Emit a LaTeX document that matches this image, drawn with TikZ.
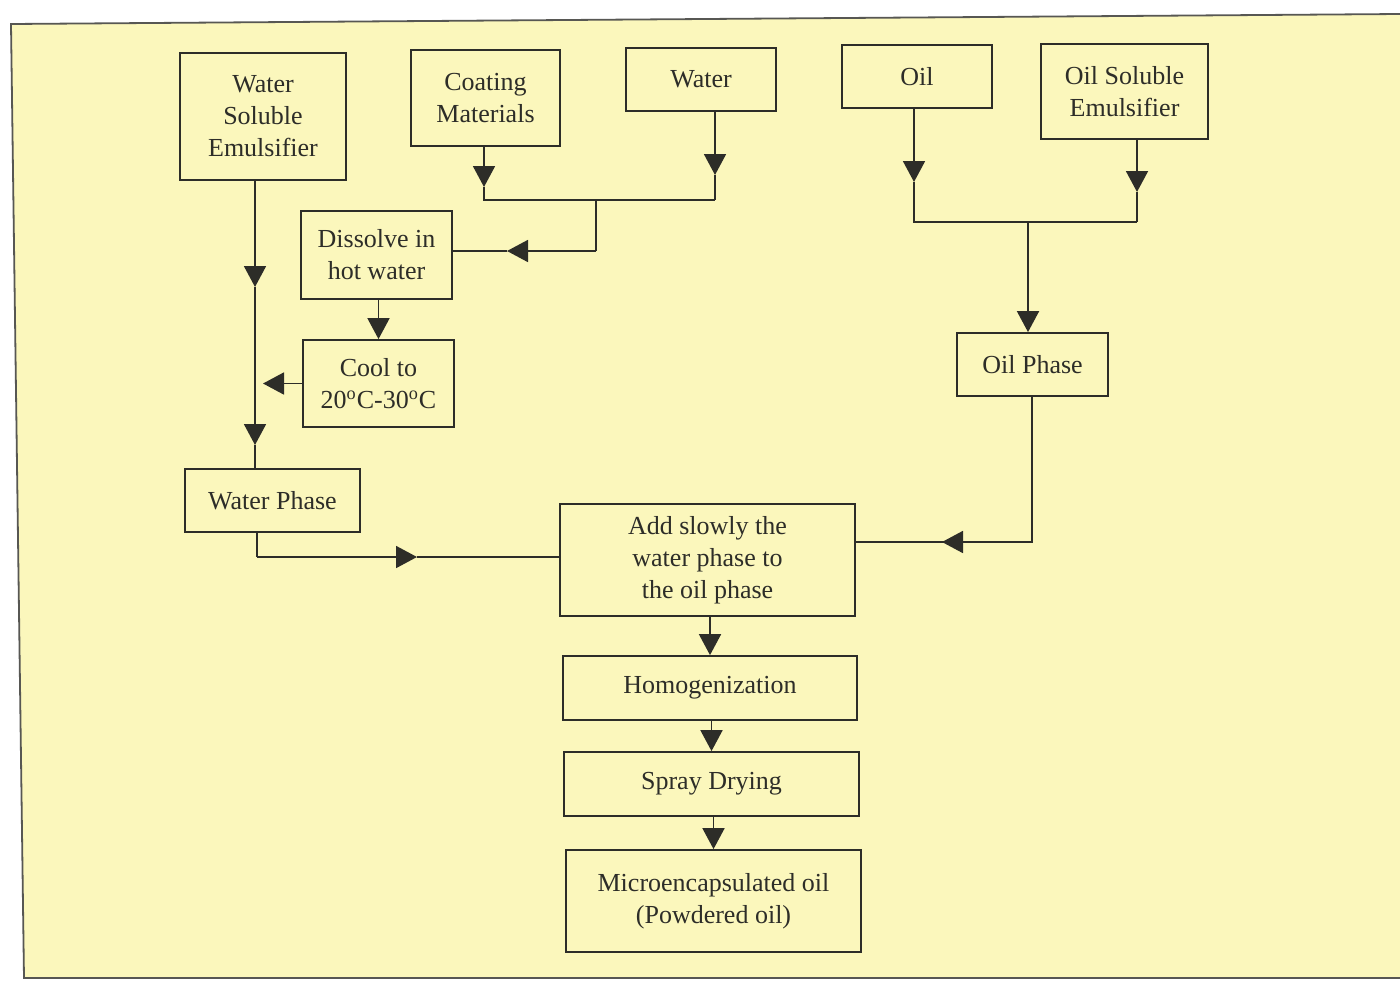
\documentclass[tikz,border=0pt]{standalone}
\usepackage{fontspec}
\setmainfont{Liberation Serif}
\usetikzlibrary{arrows.meta}
\definecolor{bg}{RGB}{251,247,188}
\definecolor{ink}{RGB}{45,45,40}
\begin{document}
\begin{tikzpicture}[x=0.5pt,y=-0.5pt,
  box/.style={draw=ink, line width=0.9pt, align=center, inner sep=0pt, text=ink,
    font=\fontsize{13}{16}\selectfont},
  ln/.style={draw=ink, line width=0.9pt},
  tip/.style={ln, -{Triangle[width=11pt,length=10.5pt]}},
]
\useasboundingbox (0,0) rectangle (1400,980);
% page and frame
\fill[white] (0,0) rectangle (1400,980);
\fill[bg] (11,24) -- (1400,14) -- (1400,978) -- (24,978) -- cycle;
\draw[ink!80, line width=0.9pt] (1400,14) -- (11,24) -- (24,978) -- (1400,978);

% boxes
\node[box, minimum width=83pt, minimum height=63.5pt] (wse) at (263,116.5) {Water\\Soluble\\Emulsifier};
\node[box, minimum width=74.5pt, minimum height=48pt] (coat) at (485.5,98) {Coating\\Materials};
\node[box, minimum width=75pt, minimum height=31.5pt] (water) at (701,79.5) {Water};
\node[box, minimum width=75pt, minimum height=31.5pt] (oil) at (917,76.5) {Oil};
\node[box, minimum width=83.5pt, minimum height=47.5pt] (ose) at (1124.5,91.5) {Oil Soluble\\Emulsifier};
\node[box, minimum width=75.5pt, minimum height=44pt] (diss) at (376.5,255) {Dissolve in\\hot water};
\node[box, minimum width=75.5pt, minimum height=43.5pt] (cool) at (378.5,383.5) {Cool to\\20\textsuperscript{o}C-30\textsuperscript{o}C};
\node[box, minimum width=87.5pt, minimum height=31.5pt] (wph) at (272.5,500.5) {Water Phase};
\node[box, minimum width=75.5pt, minimum height=31.5pt] (oph) at (1032.5,364.5) {Oil Phase};
\node[box, minimum width=147.5pt, minimum height=56pt] (add) at (707.5,560) {Add slowly the\\water phase to\\the oil phase};
\node[box, minimum width=147pt, minimum height=32pt] (hom) at (710,688) {Homogenization};
\node[box, minimum width=147.5pt, minimum height=32pt] (spray) at (711.5,784) {Spray Drying};
\node[box, minimum width=147.5pt, minimum height=51pt] (micro) at (713.5,901) {Microencapsulated oil\\(Powdered oil)};

% coordinates
\coordinate (a0) at (255,180);
\coordinate (a1) at (255,287);
\coordinate (a2) at (255,445);
\coordinate (c0) at (484,146);
\coordinate (c1) at (484,187);
\coordinate (c2) at (484,200);
\coordinate (w0) at (715,111);
\coordinate (w1) at (715,175);
\coordinate (w2) at (715,200);
\coordinate (j0) at (596,200);
\coordinate (j1) at (596,251);
\coordinate (j2) at (507,251);
\coordinate (k1) at (263,383.5);
\coordinate (o0) at (914,108);
\coordinate (o1) at (914,182);
\coordinate (o2) at (914,222);
\coordinate (e0) at (1137,139);
\coordinate (e1) at (1137,192);
\coordinate (e2) at (1137,222);
\coordinate (m0) at (1028,222);
\coordinate (m1) at (1028,307);
\coordinate (p0) at (1032,396);
\coordinate (p1) at (1032,542);
\coordinate (p2) at (942,542);
\coordinate (q0) at (257,532);
\coordinate (q1) at (257,557);
\coordinate (q2) at (417,557);

% connectors: water side
\draw[tip] (a0) -- (a1);
\draw[tip] (a1) -- (a2);
\draw[ln] (a2) -- (a2 |- wph.north);
\draw[tip] (coat.south -| c0) -- (c1);
\draw[ln] (c1) -- (c2) -- (w2);
\draw[tip] (water.south -| w0) -- (w1);
\draw[ln] (w1) -- (w2);
\draw[ln] (j0) -- (j1);
\draw[tip] (j1) -- (j2);
\draw[ln] (j2) -- (j2 -| diss.east);
\draw[tip] (diss.south -| cool.north) -- (cool.north);
\draw[tip] (cool.west) -- (k1);

% connectors: oil side
\draw[tip] (oil.south -| o0) -- (o1);
\draw[ln] (o1) -- (o2) -- (e2);
\draw[tip] (ose.south -| e0) -- (e1);
\draw[ln] (e1) -- (e2);
\draw[tip] (m0) -- (m0 |- oph.north);
\draw[ln] (oph.south -| p0) -- (p1) -- (p2);
\draw[tip] (p1) -- (p2);
\draw[ln] (p2) -- (p2 -| add.east);

% water phase to mixing
\draw[ln] (wph.south -| q0) -- (q1);
\draw[tip] (q1) -- (q2);
\draw[ln] (q2) -- (q2 -| add.west);

% main chain
\draw[tip] (add.south -| hom.north) -- (hom.north);
\draw[tip] (hom.south -| spray.north) -- (spray.north);
\draw[tip] (spray.south -| micro.north) -- (micro.north);
\end{tikzpicture}
\end{document}
